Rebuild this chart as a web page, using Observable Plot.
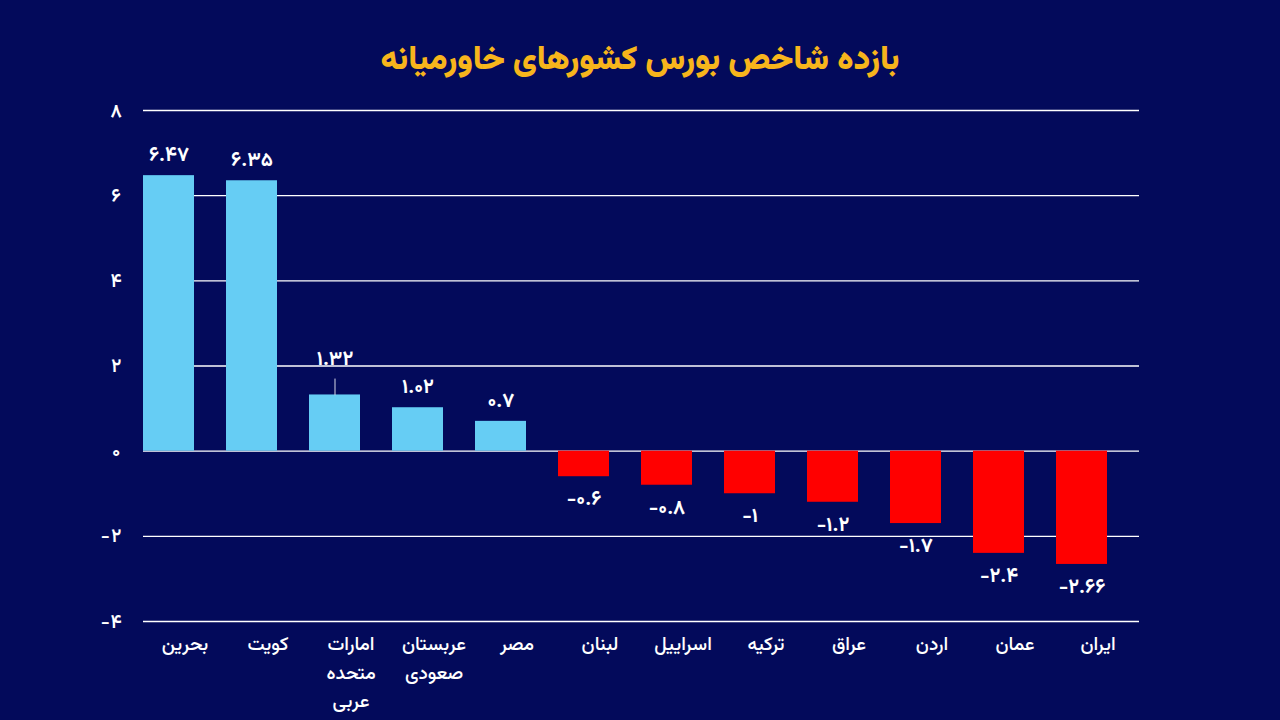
<!DOCTYPE html>
<html>
<head>
<meta charset="utf-8">
<script src="https://cdn.jsdelivr.net/npm/d3@7"></script>
<script src="https://cdn.jsdelivr.net/npm/@observablehq/plot@0.6"></script>
<style>
  html, body { margin: 0; padding: 0; }
  body { width: 1280px; height: 720px; overflow: hidden; background: #030a5b;
         font-family: "Vazirmatn", "Noto Sans Arabic", "DejaVu Sans", sans-serif; }
  #title { height: 95px; box-sizing: border-box; padding-top: 38px; text-align: center;
           color: #f7b51c; font-size: 33px; font-weight: 900; line-height: 46px; }
  #chart svg { display: block; }
</style>
</head>
<body>
<div id="title" dir="rtl">بازده شاخص بورس کشورهای خاورمیانه</div>
<div id="chart"></div>
<script>
// ---- data ----
const countries = ["بحرین", "کویت", "امارات متحده عربی", "عربستان صعودی", "مصر", "لبنان", "اسراییل", "ترکیه", "عراق", "اردن", "عمان", "ایران"];
const returns = [6.47, 6.35, 1.32, 1.02, 0.7, -0.6, -0.8, -1, -1.2, -1.7, -2.4, -2.66];
const yTicks = [-4, -2, 0, 2, 4, 6, 8];
const calloutCountry = "امارات متحده عربی";

const rows = countries.map((c, i) => ({country: c, value: returns[i]}));
const faDigits = "۰۱۲۳۴۵۶۷۸۹";
const toFa = (v) => String(v).replace(/[0-9]/g, (d) => faDigits[+d]);

const pos = rows.filter((d) => d.value >= 0 && d.country !== calloutCountry);
const neg = rows.filter((d) => d.value < 0);
const call = rows.filter((d) => d.country === calloutCountry);

const FONT = '"Vazirmatn", "Noto Sans Arabic", "DejaVu Sans", sans-serif';

const chart = Plot.plot({
  width: 1280,
  height: 625,
  marginTop: 15,
  marginBottom: 99,
  marginLeft: 143,
  marginRight: 141,
  style: {background: "transparent", color: "#ffffff", fontFamily: FONT, overflow: "visible"},
  x: {type: "band", domain: countries, padding: 0},
  y: {domain: [-4, 8]},
  marks: [
    Plot.ruleY(yTicks, {stroke: "#ffffff", strokeWidth: 1.3, strokeOpacity: 1}),
    Plot.barY(rows, {
      x: "country", y: "value", insetLeft: 0, insetRight: 32,
      fill: (d) => d.value >= 0 ? "#66cdf4" : "#ff0000"
    }),
    Plot.text(pos, {x: "country", y: "value", text: (d) => toFa(d.value), dx: -16, dy: -21,
      fill: "#ffffff", fontSize: 20, fontWeight: "bold"}),
    Plot.text(call, {x: "country", y: "value", text: (d) => toFa(d.value), dx: -16, dy: -36,
      fill: "#ffffff", fontSize: 20, fontWeight: "bold"}),
    Plot.vector(call, {x: "country", y: "value", dx: -16, anchor: "start", length: 16, rotate: 0,
      stroke: "#d8d8e8", strokeWidth: 1,
      shape: {draw(context, l) { context.moveTo(0, 0); context.lineTo(0, -l); }}}),
    Plot.text(neg, {x: "country", y: "value", text: (d) => toFa(d.value), dx: -16, dy: 22,
      fill: "#ffffff", fontSize: 20, fontWeight: "bold"}),
    Plot.axisY({ticks: yTicks, tickSize: 0, tickPadding: 21, tickFormat: toFa,
      fontSize: 19, fontWeight: 600, fill: "#ffffff", label: null}),
    Plot.axisX({tickSize: 0, tickPadding: 9, tickFormat: (c) => c.replace(/ /g, "\n"),
      fontSize: 19, fontWeight: 500, lineHeight: 1.48, fill: "#ffffff", label: null, lineAnchor: "top"})
  ]
});
document.getElementById("chart").appendChild(chart);
</script>
</body>
</html>
